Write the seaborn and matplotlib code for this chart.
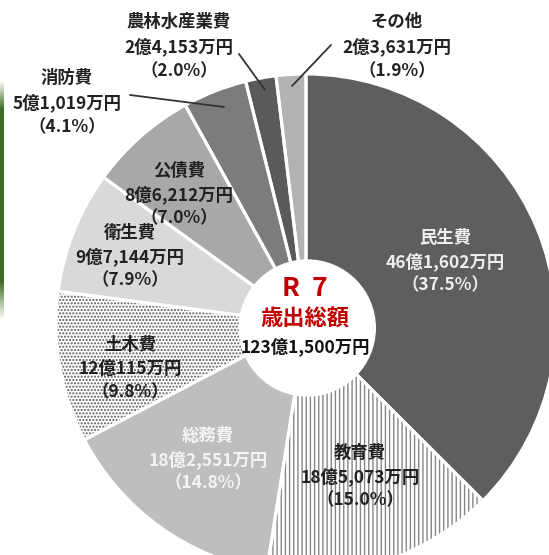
import matplotlib
matplotlib.use("Agg")
import matplotlib.pyplot as plt
import seaborn as sns
import numpy as np
from matplotlib.colors import LinearSegmentedColormap

# ---- data ----
categories = ["民生費", "教育費", "総務費", "土木費", "衛生費", "公債費", "消防費", "農林水産業費", "その他"]
amounts_man = [461602, 185073, 182551, 120115, 97144, 86212, 51019, 24153, 23631]  # 万円
amount_labels = ["46億1,602万円", "18億5,073万円", "18億2,551万円", "12億115万円", "9億7,144万円",
                 "8億6,212万円", "5億1,019万円", "2億4,153万円", "2億3,631万円"]
pct_labels = ["（37.5%）", "（15.0%）", "（14.8%）", "（9.8%）", "（7.9%）",
              "（7.0%）", "（4.1%）", "（2.0%）", "（1.9%）"]
center_title = "R  7"
center_sub = "歳出総額"
center_total = "123億1,500万円"

# ---- style ----
sns.set_theme(style="white")
plt.rcParams['font.family'] = ['Noto Sans CJK JP', 'DejaVu Sans']
plt.rcParams['hatch.linewidth'] = 1.0

face_colors = ["#5e5e5e", "#ffffff", "#bebebe", "#ffffff", "#d9d9d9",
               "#a8a8a8", "#7c7c7c", "#5a5a5a", "#b3b3b3"]
hatches = [None, "||||", None, ".....", None, None, None, None, None]
hatch_colors = ["#5e5e5e", "#858585", "#bebebe", "#5a5a5a", "#d9d9d9",
                "#a8a8a8", "#7c7c7c", "#5a5a5a", "#b3b3b3"]
label_colors = ["#eeeeee", "#222222", "#f4f4f4", "#222222", "#222222", "#222222"]

W, H = 549, 555
fig = plt.figure(figsize=(W / 100, H / 100), dpi=100)
ax = fig.add_axes([0, 0, 1, 1])

R_px = 250.0
cx, cy = 306.0, 324.0

# base wedges with hatches
wedges, _ = ax.pie(amounts_man, startangle=90, counterclock=False, colors=face_colors,
                   radius=1.0, wedgeprops=dict(linewidth=0))
for w, h, hc in zip(wedges, hatches, hatch_colors):
    if h:
        w.set_hatch(h)
        w.set_edgecolor(hc)
# white separators on top
ax.pie(amounts_man, startangle=90, counterclock=False, colors=["none"] * len(amounts_man),
       radius=1.0, wedgeprops=dict(linewidth=2.2, edgecolor="white", fill=False))

ax.set_xlim(-cx / R_px, (W - cx) / R_px)
ax.set_ylim(-(H - cy) / R_px, cy / R_px)
ax.set_aspect("equal")
ax.axis("off")

# central hole
hole = plt.Circle((0.005, -0.016), 0.272, color="white", zorder=5)
ax.add_patch(hole)


def px(x, y):
    return ((x - cx) / R_px, (cy - y) / R_px)


fs = 12.5
# inner labels positions (pixel coords of the first line centre)
inner_pos = [(445, 238), (360, 453), (208, 436), (130, 345), (130, 233), (179, 171)]
for i, (x, y) in enumerate(inner_pos):
    lines = [categories[i], amount_labels[i], pct_labels[i]]
    for k, t in enumerate(lines):
        X, Y = px(x, y + k * 23.5)
        ax.text(X, Y, t, ha="center", va="center", fontsize=fs, color=label_colors[i],
                fontweight="bold", zorder=6)

# outer labels with leader lines
outer = {6: ((67, 78), ((130, 95), (224, 107))),
         7: ((179, 22), ((239, 54), (265, 90))),
         8: ((397, 22), ((331, 45), (292, 86)))}
for i, ((x, y), (p0, p1)) in outer.items():
    lines = [categories[i], amount_labels[i], pct_labels[i]]
    for k, t in enumerate(lines):
        X, Y = px(x, y + k * 24.5)
        ax.text(X, Y, t, ha="center", va="center", fontsize=fs, color="#222222",
                fontweight="bold", zorder=6)
    a, b = px(*p0), px(*p1)
    ax.plot([a[0], b[0]], [a[1], b[1]], color="#333333", lw=1.3, zorder=6)

# centre text
X, Y = px(305, 289)
ax.text(X, Y, center_title, ha="center", va="center", fontsize=19, color="#c00000",
        fontweight="bold", zorder=7)
X, Y = px(305, 319)
ax.text(X, Y, center_sub, ha="center", va="center", fontsize=16, color="#c00000",
        fontweight="bold", zorder=7)
X, Y = px(305, 347)
ax.text(X, Y, center_total, ha="center", va="center", fontsize=12.5, color="#111111",
        fontweight="bold", zorder=7)

# thin green strip at the left edge (cropped neighbour graphic)
gax = fig.add_axes([0, 1 - 320 / H, 3.5 / W, 240 / H])
grad = np.concatenate([np.linspace(0, 1, 30), np.ones(170), np.linspace(1, 0, 40)])[:, None]
cmap = LinearSegmentedColormap.from_list("g", ["#ffffff", "#3d6b1f"])
gax.imshow(grad, aspect="auto", cmap=cmap, vmin=0, vmax=1)
gax.axis("off")

fig.savefig("out.png", dpi=100)
